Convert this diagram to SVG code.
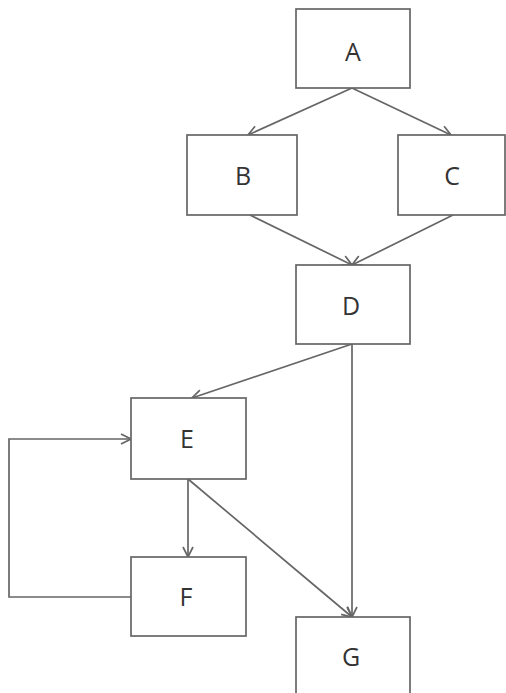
<svg xmlns="http://www.w3.org/2000/svg" width="506" height="693" viewBox="0 0 506 693">
<style>
.box{fill:#fff;stroke:#666;stroke-width:1.7}
.lbl{font-family:"Open Sans","Noto Sans",sans-serif;font-size:25px;fill:#333;text-anchor:middle}
.edge{fill:none;stroke:#666;stroke-width:1.7;marker-end:url(#arr)}
</style>
<defs>
<marker id="arr" viewBox="0 0 12 12" refX="11" refY="6" markerWidth="12" markerHeight="12" markerUnits="userSpaceOnUse" orient="auto">
<polyline points="1,1 11,6 1,11" fill="none" stroke="#666" stroke-width="1.7"/>
</marker>
</defs>
<rect width="506" height="693" fill="#fff"/>
<g id="connectors">
<path class="edge" d="M352,88 L248,135"/>
<path class="edge" d="M352,88 L451,135"/>
<path class="edge" d="M250,215 L352,265"/>
<path class="edge" d="M453,215 L352,265"/>
<path class="edge" d="M352,344 L192,398"/>
<path class="edge" d="M352,344 L352,617"/>
<path class="edge" d="M188,479 L188,557"/>
<path class="edge" d="M188,479 L352,617"/>
<path class="edge" d="M131,597 L9,597 L9,439 L131,439"/>
</g>
<g id="A"><rect class="box" x="296" y="9" width="114" height="79"/><text class="lbl" x="353" y="61">A</text></g>
<g id="B"><rect class="box" x="187" y="135" width="110" height="80"/><text class="lbl" x="243" y="185">B</text></g>
<g id="C"><rect class="box" x="398" y="135" width="107" height="80"/><text class="lbl" x="452" y="185">C</text></g>
<g id="D"><rect class="box" x="296" y="265" width="114" height="79"/><text class="lbl" x="351" y="315">D</text></g>
<g id="E"><rect class="box" x="131" y="398" width="115" height="81"/><text class="lbl" x="187" y="448">E</text></g>
<g id="F"><rect class="box" x="131" y="557" width="115" height="79"/><text class="lbl" x="186" y="606">F</text></g>
<g id="G"><rect class="box" x="296" y="617" width="114" height="80"/><text class="lbl" x="351" y="666">G</text></g>
</svg>
